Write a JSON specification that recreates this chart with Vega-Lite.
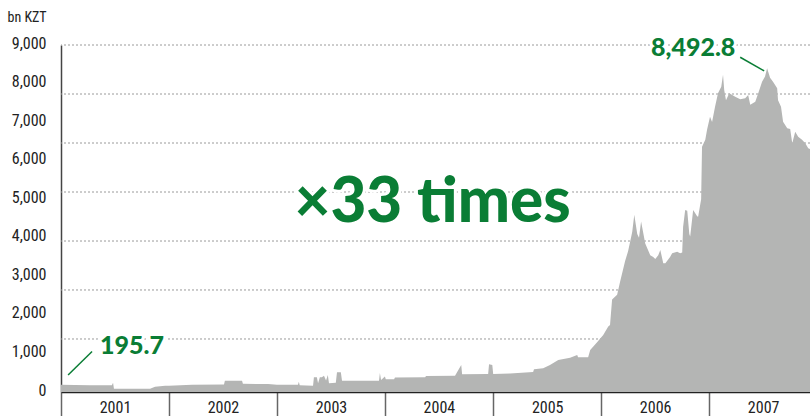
{
  "$schema": "https://vega.github.io/schema/vega-lite/v6.json",
  "width": 749,
  "height": 347,
  "autosize": {"type": "none"},
  "padding": {"left": 61, "top": 45, "right": 0, "bottom": 24},
  "background": "white",
  "config": {"view": {"stroke": null}},
  "resolve": {"axis": {"x": "independent", "y": "independent"}},
  "layer": [
    {
      "data": {"values": [{"g":1375},{"g":2646},{"g":3916},{"g":5187},{"g":6458},{"g":7729},{"g":9000}]},
      "mark": {"type": "rule", "color": "#9a9a9a", "strokeDash": [2, 2], "strokeWidth": 1},
      "encoding": {
        "y": {"field": "g", "type": "quantitative", "axis": null}
      }
    },
    {
      "data": {"values": [
        {"date":"2001-01-01","value":185},{"date":"2001-02-17","value":182},{"date":"2001-04-09","value":178},{"date":"2001-05-30","value":175},{"date":"2001-06-22","value":175},{"date":"2001-06-26","value":240},{"date":"2001-06-29","value":85},{"date":"2001-08-22","value":82},{"date":"2001-10-29","value":86},{"date":"2001-11-15","value":135},{"date":"2001-12-19","value":160},
        {"date":"2002-01-01","value":165},{"date":"2002-03-20","value":190},{"date":"2002-07-06","value":195},{"date":"2002-07-09","value":290},{"date":"2002-09-05","value":290},{"date":"2002-09-08","value":215},{"date":"2002-12-02","value":205},
        {"date":"2003-01-01","value":190},{"date":"2003-03-13","value":185},{"date":"2003-03-16","value":268},{"date":"2003-03-19","value":175},{"date":"2003-05-03","value":165},{"date":"2003-05-06","value":380},{"date":"2003-05-16","value":380},{"date":"2003-05-20","value":230},{"date":"2003-05-26","value":380},{"date":"2003-06-02","value":380},{"date":"2003-06-09","value":420},{"date":"2003-06-16","value":300},{"date":"2003-06-22","value":440},{"date":"2003-06-26","value":230},{"date":"2003-07-19","value":240},{"date":"2003-07-23","value":510},{"date":"2003-08-05","value":510},{"date":"2003-08-09","value":295},{"date":"2003-10-09","value":290},{"date":"2003-12-12","value":290},{"date":"2003-12-15","value":490},{"date":"2003-12-19","value":310},
        {"date":"2004-01-01","value":400},{"date":"2004-01-04","value":330},{"date":"2004-02-01","value":330},{"date":"2004-02-04","value":376},{"date":"2004-05-16","value":380},{"date":"2004-05-19","value":415},{"date":"2004-08-25","value":420},{"date":"2004-09-15","value":700},{"date":"2004-09-18","value":460},{"date":"2004-12-15","value":470},{"date":"2004-12-18","value":720},{"date":"2004-12-29","value":700},
        {"date":"2005-01-01","value":470},{"date":"2005-02-27","value":480},{"date":"2005-05-16","value":520},{"date":"2005-05-19","value":590},{"date":"2005-06-19","value":615},{"date":"2005-07-12","value":700},{"date":"2005-08-09","value":830},{"date":"2005-09-18","value":890},{"date":"2005-10-12","value":960},{"date":"2005-10-15","value":900},{"date":"2005-11-18","value":900},{"date":"2005-11-25","value":1090},{"date":"2005-12-19","value":1300},
        {"date":"2006-01-08","value":1480},{"date":"2006-01-25","value":1700},{"date":"2006-01-31","value":1740},{"date":"2006-02-07","value":2400},{"date":"2006-02-24","value":2520},{"date":"2006-03-06","value":2860},{"date":"2006-03-23","value":3400},{"date":"2006-04-02","value":3650},{"date":"2006-04-16","value":4150},{"date":"2006-04-23","value":4600},{"date":"2006-05-03","value":4100},{"date":"2006-05-09","value":4000},{"date":"2006-05-16","value":4420},{"date":"2006-05-30","value":3850},{"date":"2006-06-16","value":3550},{"date":"2006-06-26","value":3500},{"date":"2006-07-03","value":3450},{"date":"2006-07-13","value":3550},{"date":"2006-07-20","value":3680},{"date":"2006-07-30","value":3340},{"date":"2006-08-06","value":3340},{"date":"2006-08-22","value":3500},{"date":"2006-08-29","value":3600},{"date":"2006-09-15","value":3640},{"date":"2006-09-25","value":3600},{"date":"2006-10-02","value":3620},{"date":"2006-10-05","value":4280},{"date":"2006-10-12","value":4720},{"date":"2006-10-19","value":4700},{"date":"2006-10-26","value":4100},{"date":"2006-10-29","value":4030},{"date":"2006-11-08","value":4720},{"date":"2006-11-22","value":4550},{"date":"2006-11-25","value":4550},{"date":"2006-12-05","value":5000},{"date":"2006-12-08","value":6360},{"date":"2006-12-19","value":6540},{"date":"2006-12-25","value":6800},
        {"date":"2007-01-04","value":7140},{"date":"2007-01-11","value":7000},{"date":"2007-01-21","value":7400},{"date":"2007-01-31","value":7750},{"date":"2007-02-11","value":7920},{"date":"2007-02-17","value":8230},{"date":"2007-02-21","value":7830},{"date":"2007-02-27","value":7570},{"date":"2007-03-10","value":7750},{"date":"2007-03-30","value":7660},{"date":"2007-04-16","value":7590},{"date":"2007-05-03","value":7620},{"date":"2007-05-13","value":7700},{"date":"2007-05-20","value":7450},{"date":"2007-06-06","value":7530},{"date":"2007-06-16","value":7750},{"date":"2007-06-29","value":8050},{"date":"2007-07-09","value":8180},{"date":"2007-07-16","value":8400},{"date":"2007-07-26","value":8150},{"date":"2007-08-05","value":8050},{"date":"2007-08-19","value":7880},{"date":"2007-08-22","value":7570},{"date":"2007-09-01","value":7400},{"date":"2007-09-08","value":7010},{"date":"2007-09-22","value":6840},{"date":"2007-10-02","value":6820},{"date":"2007-10-09","value":6450},{"date":"2007-10-19","value":6750},{"date":"2007-10-29","value":6620},{"date":"2007-11-11","value":6540},{"date":"2007-11-22","value":6450},{"date":"2007-12-02","value":6320},{"date":"2007-12-08","value":6300}
      ]},
      "mark": {"type": "area", "color": "#b4b5b4", "clip": true},
      "encoding": {
        "x": {
          "field": "date", "type": "temporal",
          "scale": {"type": "utc", "domain": [{"year":2001,"month":1,"date":1,"utc":true},{"year":2007,"month":12,"date":8,"utc":true}]},
          "axis": {
            "orient": "bottom",
            "values": [{"year":2001,"month":1,"date":1,"utc":true},{"year":2002,"month":1,"date":1,"utc":true},{"year":2003,"month":1,"date":1,"utc":true},{"year":2004,"month":1,"date":1,"utc":true},{"year":2005,"month":1,"date":1,"utc":true},{"year":2006,"month":1,"date":1,"utc":true},{"year":2007,"month":1,"date":1,"utc":true}],
            "format": "%Y", "grid": false, "title": null,
            "tickSize": 24, "tickColor": "#666", "tickWidth": 1.5,
            "domainColor": "#222", "domainWidth": 1.5,
            "labelOffset": 54, "labelPadding": -17, "labelFontSize": 16, "labelColor": "#222",
            "labelFont": "Liberation Sans Narrow, Roboto Condensed, DejaVu Sans Condensed, sans-serif",
            "labelFlush": false, "labelOverlap": false, "labelBound": false
          }
        },
        "y": {
          "field": "value", "type": "quantitative",
          "scale": {"domain": [0, 9000], "nice": false},
          "axis": {
            "orient": "left",
            "values": [0,1000,2000,3000,4000,5000,6000,7000,8000,9000],
            "format": ",.0f",
            "grid": false,
            "ticks": false, "domainColor": "#444", "domainWidth": 1.5,
            "labelPadding": 15, "labelFontSize": 16, "labelColor": "#222", "labelOffset": -2,
            "labelFont": "Liberation Sans Narrow, Roboto Condensed, DejaVu Sans Condensed, sans-serif",
            "labelOverlap": false, "labelFlush": false,
            "title": "bn KZT", "titleX": -54, "titleY": -24, "titleAngle": 0, "titleAlign": "left",
            "titleBaseline": "alphabetic", "titleFontSize": 14, "titleFontWeight": "normal", "titleColor": "#222",
            "titleFont": "Liberation Sans Narrow, Roboto Condensed, DejaVu Sans Condensed, sans-serif"
          }
        }
      }
    },
    {
      "data": {"values": [
        {"d1": "2001-01-25", "v1": 441, "d2": "2001-04-16", "v2": 1050},
        {"d1": "2007-04-16", "v1": 8682, "d2": "2007-07-06", "v2": 8327}
      ]},
      "mark": {"type": "rule", "color": "#0a7d35", "strokeWidth": 1.5},
      "encoding": {
        "x": {"field": "d1", "type": "temporal", "axis": null},
        "y": {"field": "v1", "type": "quantitative", "axis": null},
        "x2": {"field": "d2"},
        "y2": {"field": "v2"}
      }
    },
    {
      "data": {"values": [
        {"date": "2001-08-29", "value": 986, "label": "195.7"},
        {"date": "2006-11-08", "value": 8716, "label": "8,492.8"}
      ]},
      "layer": [
        {"mark": {"type": "text", "font": "Lato", "fontWeight": 900, "fontSize": 25, "align": "center", "baseline": "alphabetic", "stroke": "white", "strokeWidth": 6, "fill": "white"}},
        {"mark": {"type": "text", "font": "Lato", "fontWeight": 900, "fontSize": 25, "align": "center", "baseline": "alphabetic", "fill": "#0a7d35"}}
      ],
      "encoding": {
        "x": {"field": "date", "type": "temporal", "axis": null},
        "y": {"field": "value", "type": "quantitative", "axis": null},
        "text": {"field": "label"}
      }
    },
    {
      "data": {"values": [
        {"date": "2004-06-10", "value": 4410, "label": "×33 times"}
      ]},
      "layer": [
        {"mark": {"type": "text", "font": "Lato", "fontWeight": 900, "fontSize": 62, "align": "center", "baseline": "alphabetic", "stroke": "white", "strokeWidth": 6, "fill": "white"}},
        {"mark": {"type": "text", "font": "Lato", "fontWeight": 900, "fontSize": 62, "align": "center", "baseline": "alphabetic", "fill": "#0a7d35"}}
      ],
      "encoding": {
        "x": {"field": "date", "type": "temporal", "axis": null},
        "y": {"field": "value", "type": "quantitative", "axis": null},
        "text": {"field": "label"}
      }
    }
  ]
}
